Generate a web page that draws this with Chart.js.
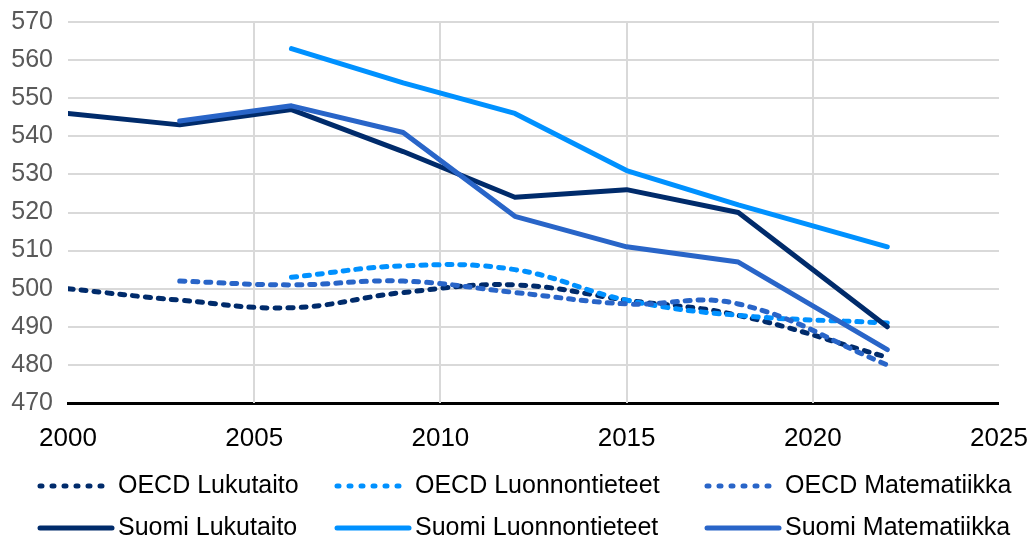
<!DOCTYPE html>
<html>
<head>
<meta charset="utf-8">
<script src="https://cdn.jsdelivr.net/npm/chart.js@4"></script>
<style>
  html, body { margin: 0; padding: 0; background: #fff; }
  #wrap { width: 1035px; height: 542px; }
</style>
</head>
<body>
<div id="wrap"><canvas id="pisa"></canvas></div>
<script>
// PISA-tulokset: vuodet ja pisteet
const years = [2000, 2003, 2006, 2009, 2012, 2015, 2018, 2022];

const oecdLukutaito        = [500, 497, 495, 499, 501, 497, 493, 482];
const oecdLuonnontieteet   = [null, null, 503, 506, 505, 497, 493, 491];
const oecdMatematiikka     = [null, 502, 501, 502, 499, 496, 496, 480];
const suomiLukutaito       = [546, 543, 547, 536, 524, 526, 520, 490];
const suomiLuonnontieteet  = [null, null, 563, 554, 546, 531, 522, 511];
const suomiMatematiikka    = [null, 544, 548, 541, 519, 511, 507, 484];

const seriesNames = [
    'OECD Lukutaito', 'OECD Luonnontieteet', 'OECD Matematiikka',
    'Suomi Lukutaito', 'Suomi Luonnontieteet', 'Suomi Matematiikka'
];
const seriesValues = [
    oecdLukutaito, oecdLuonnontieteet, oecdMatematiikka,
    suomiLukutaito, suomiLuonnontieteet, suomiMatematiikka
];

const xTicks = [2000, 2005, 2010, 2015, 2020, 2025];
const yMin = 470, yMax = 570, yStep = 10;

// värit
const NAVY = '#002b6b';
const LIGHT = '#0091ff';
const MID = '#2965c8';
const colors = [NAVY, LIGHT, MID, NAVY, LIGHT, MID];

const FONT = "'Liberation Sans', Arial, sans-serif";
const NONE = 'rgba(0,0,0,0)';
const GRID = '#d9d9d9';

function toPoints(values) {
    return years.map((yr, i) => ({ x: yr, y: values[i] }));
}

const datasets = seriesNames.map((name, i) => {
    const dashed = i < 3;
    return {
        label: name,
        data: toPoints(seriesValues[i]),
        borderColor: colors[i],
        backgroundColor: colors[i],
        borderWidth: 5,
        borderDash: dashed ? [5, 8] : [],
        borderCapStyle: 'round',
        borderJoinStyle: 'round',
        tension: dashed ? 0.4 : 0,
        pointRadius: 0,
        fill: false,
        order: seriesNames.length - i
    };
});

// ruudukko: vaakaviivat y-asteikon tikeistä, pystyviivat vain sisäisille vuosille
const plotGrid = {
    id: 'plotGrid',
    beforeDatasetsDraw(chart, args, opts) {
        const { ctx, chartArea, scales } = chart;
        ctx.save();
        ctx.strokeStyle = opts.color;
        ctx.lineWidth = opts.width;
        scales.y.ticks.filter(t => t.value !== yMin).forEach(t => {
            const py = Math.round(scales.y.getPixelForValue(t.value));
            ctx.beginPath();
            ctx.moveTo(chartArea.left, py);
            ctx.lineTo(chartArea.right, py);
            ctx.stroke();
        });
        xTicks.slice(1, -1).forEach(v => {
            const px = Math.round(scales.x.getPixelForValue(v));
            ctx.beginPath();
            ctx.moveTo(px, chartArea.top);
            ctx.lineTo(px, chartArea.bottom);
            ctx.stroke();
        });
        ctx.restore();
    }
};

// selite kolmeen sarakkeeseen kahdelle riville
const gridLegend = {
    id: 'gridLegend',
    afterDraw(chart, args, opts) {
        const ctx = chart.ctx;
        ctx.save();
        ctx.font = opts.font;
        ctx.fillStyle = '#000';
        ctx.textBaseline = 'middle';
        chart.data.datasets.forEach((ds, i) => {
            const col = i % 3;
            const row = Math.floor(i / 3);
            const x = opts.columns[col];
            const y = opts.rows[row];
            ctx.beginPath();
            ctx.strokeStyle = ds.borderColor;
            ctx.lineWidth = ds.borderWidth;
            ctx.lineCap = 'round';
            ctx.setLineDash(ds.borderDash.length ? [2, 10] : []);
            ctx.moveTo(x, y);
            ctx.lineTo(x + opts.sample, y);
            ctx.stroke();
            ctx.setLineDash([]);
            ctx.fillText(ds.label, x + opts.sample + 6, y);
        });
        ctx.restore();
    }
};

const chart = new Chart(document.getElementById('pisa'), {
    type: 'line',
    data: { datasets },
    plugins: [plotGrid, gridLegend],
    options: {
        responsive: true,
        maintainAspectRatio: false,
        animation: false,
        layout: { padding: { top: 22, right: 36, bottom: 90, left: 0 } },
        plugins: {
            legend: { display: false },
            tooltip: { enabled: false },
            plotGrid: { color: GRID, width: 2 },
            gridLegend: {
                font: '25px ' + FONT,
                columns: [40, 337, 707],
                rows: [486, 528],
                sample: 72
            }
        },
        scales: {
            x: {
                type: 'linear',
                min: 2000,
                max: 2025,
                afterBuildTicks: scale => {
                    scale.ticks = xTicks.map(v => ({ value: v }));
                },
                afterFit: scale => {
                    scale.height = 49;
                    scale.paddingLeft = 0;
                    scale.paddingRight = 0;
                },
                ticks: {
                    color: '#000',
                    font: { family: FONT, size: 26 },
                    padding: 20,
                    maxRotation: 0,
                    callback: v => String(v)
                },
                grid: { drawTicks: false, lineWidth: 0, color: NONE },
                border: { display: true, color: '#000', width: 3 }
            },
            y: {
                min: yMin,
                max: yMax,
                afterFit: scale => {
                    scale.width = 68;
                    scale.paddingTop = 0;
                    scale.paddingBottom = 0;
                },
                ticks: {
                    stepSize: yStep,
                    color: '#595959',
                    font: { family: FONT, size: 25 },
                    padding: 15
                },
                grid: { drawTicks: false, lineWidth: 0, color: NONE },
                border: { display: false }
            }
        }
    }
});
</script>
</body>
</html>
